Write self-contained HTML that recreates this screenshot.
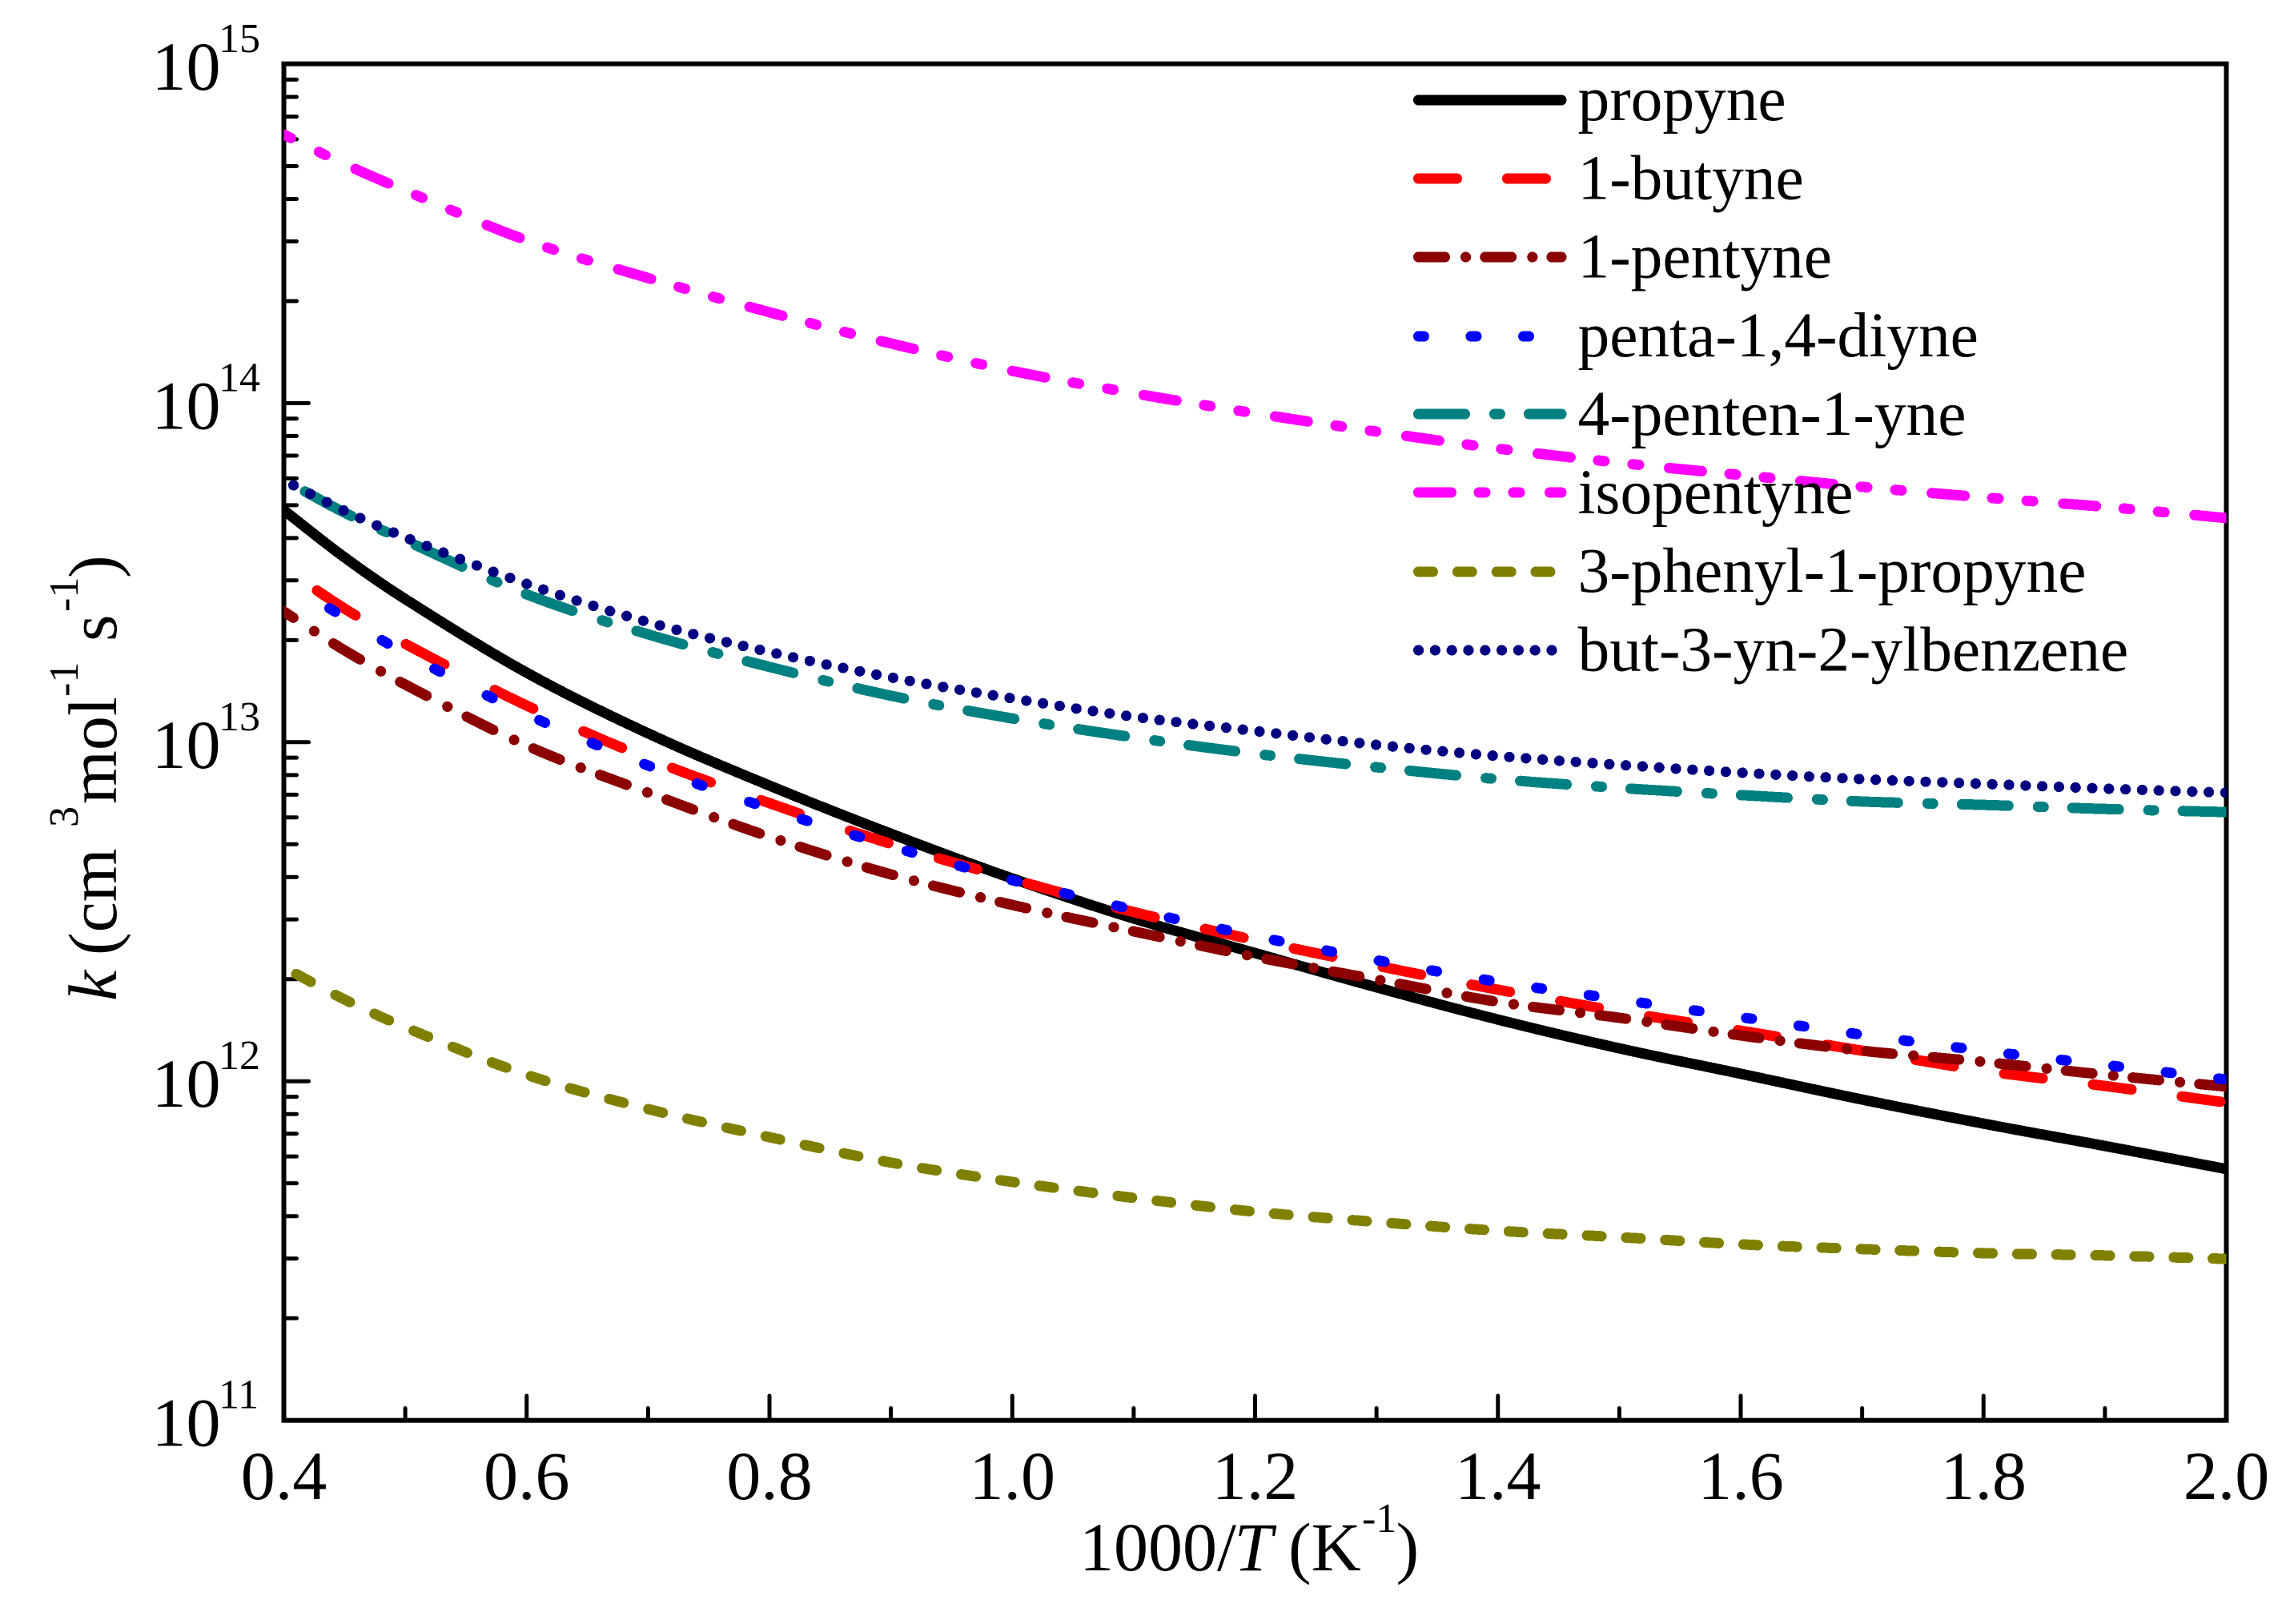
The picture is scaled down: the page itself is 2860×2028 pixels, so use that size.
<!DOCTYPE html>
<html lang="en">
<head>
<meta charset="utf-8">
<title>Rate constants k versus 1000/T</title>
<style>
html,body{margin:0;padding:0;background:#fff;}
svg{display:block;}
text{font-family:"Liberation Serif","Times New Roman",serif;fill:#000;}
.main{font-size:86px;}
.sup{font-size:52px;}
.leg{font-size:79.4px;}
</style>
</head>
<body>
<svg id="chart" xmlns="http://www.w3.org/2000/svg" width="2860" height="2028" viewBox="0 0 2860 2028">
  <defs>
    <clipPath id="plot-clip"><rect x="354.5" y="76" width="2426" height="1701"/></clipPath>
    <clipPath id="legend-clip"><rect x="1760" y="90" width="196.5" height="760"/></clipPath>
  </defs>
  <rect x="0" y="0" width="2860" height="2028" fill="#fff"/>
  <g id="ticks"></g>
  <rect x="354.5" y="79.7" width="2426" height="1694" fill="none" stroke="#000" stroke-width="6"/>
  <g id="tick-labels"></g>
  <g id="series" clip-path="url(#plot-clip)" shape-rendering="crispEdges"></g>
  <g id="legend-lines" clip-path="url(#legend-clip)" shape-rendering="crispEdges"></g>
  <g id="legend-text">
    <text class="leg" x="1970.5" y="150">propyne</text>
    <text class="leg" x="1970.5" y="248.5">1-butyne</text>
    <text class="leg" x="1970.5" y="346.5">1-pentyne</text>
    <text class="leg" x="1970.5" y="445">penta-1,4-diyne</text>
    <text class="leg" x="1970.5" y="543">4-penten-1-yne</text>
    <text class="leg" x="1970.5" y="641">isopentyne</text>
    <text class="leg" x="1970.5" y="739">3-phenyl-1-propyne</text>
    <text class="leg" x="1970.5" y="837.5">but-3-yn-2-ylbenzene</text>
  </g>
  <text class="main"><tspan x="1348" y="1961">1000/</tspan><tspan x="1541.5" y="1961" font-style="italic">T</tspan><tspan x="1609" y="1961">(K</tspan><tspan class="sup" x="1701" y="1913">-1</tspan><tspan x="1743.5" y="1961">)</tspan></text>
  <g transform="rotate(-90)">
    <text class="main"><tspan x="-1250" y="145" font-style="italic">k</tspan><tspan x="-1193" y="145">(cm</tspan><tspan class="sup" x="-1033" y="97">3</tspan><tspan x="-1004" y="145">mol</tspan><tspan class="sup" x="-870" y="97">-1</tspan><tspan x="-801" y="145">s</tspan><tspan class="sup" x="-764" y="97">-1</tspan><tspan x="-722" y="145">)</tspan></text>
  </g>
</svg>
<script>
// ---- data: x = 1000/T (1/K), values = log10(k) ----
const xValues = [0.4,0.45,0.5,0.6,0.7,0.8,0.9,1.0,1.1,1.2,1.3,1.4,1.5,1.6,1.7,1.8,1.9,2.0];
const propyne = [13.684,13.545,13.422,13.205,13.026,12.872,12.730,12.598,12.480,12.378,12.277,12.182,12.097,12.022,11.946,11.875,11.809,11.741];
const butyne = [13.514,13.394,13.290,13.108,12.952,12.820,12.700,12.596,12.499,12.416,12.341,12.270,12.206,12.149,12.090,12.031,11.986,11.937];
const pentyne = [13.385,13.271,13.170,12.990,12.851,12.721,12.610,12.520,12.442,12.367,12.300,12.234,12.187,12.135,12.090,12.057,12.019,11.984];
const pentadiyne = [13.477,13.368,13.262,13.082,12.931,12.804,12.693,12.593,12.506,12.428,12.357,12.293,12.241,12.189,12.137,12.090,12.048,12.005];
const pentenyne = [13.774,13.677,13.595,13.436,13.318,13.222,13.137,13.070,13.014,12.966,12.926,12.891,12.865,12.844,12.825,12.815,12.803,12.794];
const isopentyne = [14.792,14.705,14.627,14.480,14.369,14.268,14.176,14.095,14.029,13.970,13.916,13.866,13.824,13.788,13.753,13.722,13.694,13.661];
const phenylpropyne = [12.336,12.241,12.159,12.019,11.918,11.835,11.760,11.703,11.656,11.615,11.585,11.559,11.540,11.519,11.505,11.493,11.486,11.476];
const butynylbenzene = [13.772,13.682,13.604,13.467,13.354,13.266,13.191,13.129,13.075,13.033,12.992,12.959,12.933,12.910,12.891,12.877,12.863,12.851];
const xTickValues = [0.4,0.5,0.6,0.7,0.8,0.9,1.0,1.1,1.2,1.3,1.4,1.5,1.6,1.7,1.8,1.9,2.0];
const xTickLabels = ["0.4","0.6","0.8","1.0","1.2","1.4","1.6","1.8","2.0"];
const yDecades = [15,14,13,12,11];
const minorMultipliers = [2,3,4,5,6,7,8,9];

// ---- axis functions ----
const X0 = 354.5, XPERUNIT = 1516.25, YTOP = 80, YPERDECADE = 423.4;
function xScale(v){ return X0 + (v - 0.4) * XPERUNIT; }
function xInvert(px){ return 0.4 + (px - X0) / XPERUNIT; }
function yScale(logK){ return YTOP + (15 - logK) * YPERDECADE; }

const SVGNS = "http://www.w3.org/2000/svg";

// smooth evaluation through the read values
function evalCurve(vals, x){
  const n = xValues.length;
  let i = 0;
  while (i < n - 2 && x > xValues[i + 1]) i++;
  const x0 = xValues[i], x1 = xValues[i + 1], h = x1 - x0;
  const slope = function(j){
    if (j <= 0) return (vals[1] - vals[0]) / (xValues[1] - xValues[0]);
    if (j >= n - 1) return (vals[n - 1] - vals[n - 2]) / (xValues[n - 1] - xValues[n - 2]);
    return (vals[j + 1] - vals[j - 1]) / (xValues[j + 1] - xValues[j - 1]);
  };
  const t = (x - x0) / h, t2 = t * t, t3 = t2 * t;
  return (2*t3 - 3*t2 + 1) * vals[i] + (t3 - 2*t2 + t) * h * slope(i)
       + (-2*t3 + 3*t2) * vals[i + 1] + (t3 - t2) * h * slope(i + 1);
}

// dashes repeat at a fixed horizontal period, as in the source plot
function buildPath(segments, period, phase, xMin, xMax, yAt){
  let d = "";
  const addSeg = function(a, b){
    a = Math.max(a, xMin); b = Math.min(b, xMax);
    if (a > b) return;
    d += "M" + a.toFixed(1) + " " + yAt(a).toFixed(1);
    if (b - a < 0.2) { d += "L" + (a + 0.2).toFixed(1) + " " + yAt(a).toFixed(1); return; }
    for (let p = a + 4; p < b; p += 4) d += "L" + p.toFixed(1) + " " + yAt(p).toFixed(1);
    d += "L" + b.toFixed(1) + " " + yAt(b).toFixed(1);
  };
  if (!period) { addSeg(xMin, xMax); return d; }
  let start = phase;
  while (start > xMin) start -= period;
  for (let s = start; s < xMax; s += period) {
    segments.forEach(function(seg){ addSeg(s + seg[0], s + seg[1]); });
  }
  return d;
}

// ---- series list and line styles ----
const seriesList = [
  {key:"propyne", vals:propyne, color:"#000000", seg:[], period:0, phase:0, from:350},
  {key:"1-butyne", vals:butyne, color:"#ff0000", seg:[[0,48]], period:110.9, phase:396, from:350},
  {key:"1-pentyne", vals:pentyne, color:"#8b0000", seg:[[0,33],[59,59.2]], period:83.22, phase:333.3, from:350},
  {key:"penta-1-4-diyne", vals:pentadiyne, color:"#0000ff", seg:[[0,7]], period:65.53, phase:411.5, from:405},
  {key:"4-penten-1-yne", vals:pentenyne, color:"#008080", seg:[[0,58],[95,102]], period:137.95, phase:381, from:350},
  {key:"isopentyne", vals:isopentyne, color:"#ff00ff", seg:[[0,41],[75.5,83.5],[118.5,126.5]], period:164.05, phase:444, from:350},
  {key:"3-phenyl-1-propyne", vals:phenylpropyne, color:"#808000", seg:[[0,18]], period:48.85, phase:370, from:350},
  {key:"but-3-yn-2-ylbenzene", vals:butynylbenzene, color:"#000080", seg:[[0,0.2]], period:20.8, phase:366.5, from:350}
];
const legendRowY = [125,223,321,420,517,615,714,812];

// ---- ticks ----
const tickGroup = document.getElementById("ticks");
function addTick(x1, y1, x2, y2, name){
  const t = document.createElementNS(SVGNS, "line");
  t.setAttribute("x1", x1);
  t.setAttribute("y1", y1);
  t.setAttribute("x2", x2);
  t.setAttribute("y2", y2);
  t.setAttribute("stroke", "#000");
  t.setAttribute("stroke-width", "5");
  t.setAttribute("stroke-linecap", "round");
  
  
  tickGroup.appendChild(t);
}
xTickValues.forEach(function(v, i){
  const major = i % 2 === 0;
  addTick(xScale(v), 1773.7, xScale(v), major ? 1743 : 1758.5, major ? "x-major-tick" : "x-minor-tick");
});
yDecades.forEach(function(e){
  addTick(354.5, yScale(e), 385.5, yScale(e), "y-major-tick");
  if (e > 11) {
    minorMultipliers.forEach(function(m){
      const y = yScale(e - 1 + Math.log10(m));
      addTick(354.5, y, 370.5, y, "y-minor-tick");
    });
  }
});

// ---- tick labels ----
const labelGroup = document.getElementById("tick-labels");
xTickLabels.forEach(function(lbl){
  const t = document.createElementNS(SVGNS, "text");
  t.setAttribute("class", "main");
  t.setAttribute("x", xScale(parseFloat(lbl)));
  t.setAttribute("y", 1872);
  t.setAttribute("text-anchor", "middle");
  
  
  t.textContent = lbl;
  labelGroup.appendChild(t);
});
yDecades.forEach(function(e){
  const y = yScale(e);
  const base = document.createElementNS(SVGNS, "text");
  base.setAttribute("class", "main");
  base.setAttribute("x", 189.5);
  base.setAttribute("y", y + 32);
  
  
  base.textContent = "10";
  labelGroup.appendChild(base);
  const sup = document.createElementNS(SVGNS, "text");
  sup.setAttribute("class", "sup");
  sup.setAttribute("x", 273);
  sup.setAttribute("y", y - 15);
  
  
  sup.textContent = String(e);
  labelGroup.appendChild(sup);
});

// ---- series lines ----
const seriesGroup = document.getElementById("series");
const legendGroup = document.getElementById("legend-lines");
seriesList.forEach(function(s, i){
  const d = buildPath(s.seg, s.period, s.phase, s.from, 2785, function(px){
    return yScale(evalCurve(s.vals, xInvert(px)));
  });
  const p = document.createElementNS(SVGNS, "path");
  p.setAttribute("d", d);
  p.setAttribute("fill", "none");
  p.setAttribute("stroke", s.color);
  p.setAttribute("stroke-width", "13");
  p.setAttribute("stroke-linecap", "round");
  p.setAttribute("stroke-linejoin", "round");
  
  
  seriesGroup.appendChild(p);

  const rowY = legendRowY[i];
  const ld = s.period
    ? buildPath(s.seg, s.period, 1771.5, 1771.5, 1950, function(){ return rowY; })
    : buildPath([], 0, 0, 1771.5, 1950, function(){ return rowY; });
  const lp = document.createElementNS(SVGNS, "path");
  lp.setAttribute("d", ld);
  lp.setAttribute("fill", "none");
  lp.setAttribute("stroke", s.color);
  lp.setAttribute("stroke-width", "13");
  lp.setAttribute("stroke-linecap", "round");
  
  
  legendGroup.appendChild(lp);
});
</script>
</body>
</html>
